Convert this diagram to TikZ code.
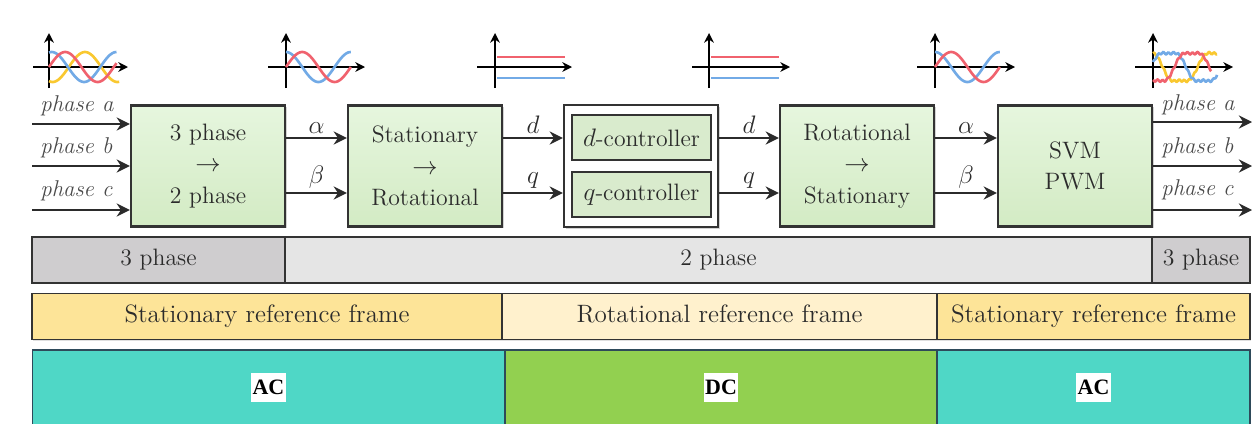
\documentclass[tikz,border=0pt]{standalone}
\usepackage{fontspec}
\newfontfamily\tagfont{Liberation Serif}
\usetikzlibrary{arrows.meta,shadows}
\definecolor{edge}{HTML}{333333}
\definecolor{ink}{HTML}{2B2B2B}
\definecolor{boxtop}{HTML}{E6F6DE}
\definecolor{boxbot}{HTML}{D3EBC4}
\definecolor{ctrlfill}{HTML}{D9EBCD}
\definecolor{phdark}{HTML}{CFCDCF}
\definecolor{phlight}{HTML}{E5E5E5}
\definecolor{frmdark}{HTML}{FDE498}
\definecolor{frmlight}{HTML}{FFF1CD}
\definecolor{acteal}{HTML}{4FD7C6}
\definecolor{dcgreen}{HTML}{92D050}
\definecolor{domedge}{HTML}{2E4A5A}
\definecolor{wred}{HTML}{F0626E}
\definecolor{wblue}{HTML}{72AAE6}
\definecolor{wyellow}{HTML}{F9C830}
\definecolor{labgrey}{HTML}{4A4A4A}
\tikzset{
  block/.style={draw=edge, line width=1.4pt, top color=boxtop, bottom color=boxbot,
    minimum width=3.08cm, minimum height=2.42cm, align=center, text=ink,
    font=\fontsize{13.5}{18}\selectfont,
    drop shadow={shadow xshift=0.9pt, shadow yshift=-0.9pt, opacity=0.35}},
  holder/.style={block, top color=white, bottom color=white, minimum height=2.44cm},
  subblock/.style={draw=edge, line width=1.4pt, fill=ctrlfill, minimum width=2.78cm,
    minimum height=0.9cm, inner sep=0pt, text=ink, font=\fontsize{13.5}{16}\selectfont},
  sig/.style={draw=ink, line width=1.2pt, -{Stealth[length=7.5pt,width=7.5pt,inset=2.5pt]}},
  siglab/.style={midway, above, inner sep=2pt, text=ink, font=\fontsize{14}{16}\selectfont},
  phlab/.style={text=labgrey, inner sep=0pt, anchor=west, font=\fontsize{13}{15}\selectfont\itshape},
  band/.style={draw=edge, line width=1.1pt, minimum height=0.92cm, inner sep=0pt, text=ink,
    text height=9.5pt, text depth=3pt, font=\fontsize{13.5}{16}\selectfont,
    drop shadow={shadow xshift=0.6pt, shadow yshift=-0.6pt, opacity=0.25}},
  frame/.style={band, font=\fontsize{14.3}{16}\selectfont},
  acdc/.style={draw=domedge, line width=0.6pt, minimum height=1.5cm, inner sep=0pt},
  tag/.style={fill=white, inner xsep=0.8pt, inner ysep=4pt, text=black,
    font=\tagfont\bfseries\fontsize{12.5}{14}\selectfont},
  ax/.style={draw=black, line width=1.2pt, -{Stealth[length=5.5pt,width=5.5pt]}},
  wave/.style={line width=1.5pt, smooth, samples=50}
}
\begin{document}
\begin{tikzpicture}[x=0.02cm, y=-0.02cm]
  \useasboundingbox (0,0) rectangle (1257,423);

  \begin{scope}[shift={(49,67)}]
   \draw[ax] (0,21) -- (0,-34);
   \draw[ax] (-16,0) -- (79,0);
   \draw[wave, wyellow] plot[domain=0:390] ({0.18*\x},{-15*cos(\x-200)});
   \draw[wave, wblue] plot[domain=0:375] ({0.18*\x},{-15*cos(\x-15)});
   \draw[wave, wred] plot[domain=0:375] ({0.18*\x},{-15*sin(\x)});
  \end{scope}
  \begin{scope}[shift={(286,67)}]
   \draw[ax] (0,21) -- (0,-34);
   \draw[ax] (-18,0) -- (79,0);
   \draw[wave, wblue] plot[domain=0:360] ({0.18*\x},{-15*cos(\x)});
   \draw[wave, wred] plot[domain=0:360] ({0.18*\x},{-15*sin(\x)});
  \end{scope}
  \begin{scope}[shift={(495,67)}]
   \draw[ax] (0,21) -- (0,-34);
   \draw[ax] (-18,0) -- (77,0);
   \draw[wred, line width=1.5pt] (2,-10) -- (70,-10);
   \draw[wblue, line width=1.5pt] (2,11) -- (70,11);
  \end{scope}
  \begin{scope}[shift={(709,67)}]
   \draw[ax] (0,21) -- (0,-34);
   \draw[ax] (-17,0) -- (81,0);
   \draw[wred, line width=1.5pt] (2,-10) -- (70,-10);
   \draw[wblue, line width=1.5pt] (2,11) -- (70,11);
  \end{scope}
  \begin{scope}[shift={(935,67)}]
   \draw[ax] (0,21) -- (0,-34);
   \draw[ax] (-18,0) -- (80,0);
   \draw[wave, wblue] plot[domain=0:360] ({0.18*\x},{-15*cos(\x)});
   \draw[wave, wred] plot[domain=0:360] ({0.18*\x},{-15*sin(\x)});
  \end{scope}
  \begin{scope}[shift={(1153,67)}]
   \draw[ax] (0,21) -- (0,-34);
   \draw[ax] (-18,0) -- (80,0);
   \draw[wave, wyellow, samples=90] plot[domain=0:330]
    ({0.194*\x},{-14*((cos(\x+40)-cos(3*\x+120)/6)/0.866+0.07*sin(14*\x))});
   \draw[wave, wblue, samples=90] plot[domain=0:330]
    ({0.194*\x},{-14*((cos(\x-80)-cos(3*\x-240)/6)/0.866+0.07*sin(14*\x+60))});
   \draw[wave, wred, samples=90] plot[domain=0:300]
    ({0.194*\x},{-14*((cos(\x-200)-cos(3*\x-600)/6)/0.866+0.07*sin(14*\x+120))});
  \end{scope}

  \node[block] (conv1) at (208,166) {3 phase\\$\rightarrow$\\2 phase};
  \node[block] (conv2) at (425,166) {Stationary\\$\rightarrow$\\Rotational};
  \node[holder] (ctrl) at (641,166) {};
  \node[subblock] (dctl) at (641.5,137.5) {$d$-controller};
  \node[subblock] (qctl) at (641.5,194.5) {$q$-controller};
  \node[block] (conv3) at (857,166) {Rotational\\$\rightarrow$\\Stationary};
  \node[block] (svm) at (1075,166) {SVM\\PWM};

  \coordinate (ina) at (32,124);
  \coordinate (inb) at (32,166);
  \coordinate (inc) at (32,210);
  \draw[sig] (ina) -- (ina -| conv1.west);
  \draw[sig] (inb) -- (inb -| conv1.west);
  \draw[sig] (inc) -- (inc -| conv1.west);
  \node[phlab] (pla) at (40,106) {phase a};
  \node[phlab] (plb) at (40,148) {phase b};
  \node[phlab] (plc) at (40,191) {phase c};

  \draw[sig] ([yshift=0.56cm]conv1.east) -- ([yshift=0.56cm]conv2.west) node[siglab] {$\alpha$};
  \draw[sig] ([yshift=-0.54cm]conv1.east) -- ([yshift=-0.54cm]conv2.west) node[siglab] {$\beta$};
  \draw[sig] ([yshift=0.56cm]conv2.east) -- ([yshift=0.56cm]ctrl.west) node[siglab] {$d$};
  \draw[sig] ([yshift=-0.54cm]conv2.east) -- ([yshift=-0.54cm]ctrl.west) node[siglab] {$q$};
  \draw[sig] ([yshift=0.56cm]ctrl.east) -- ([yshift=0.56cm]conv3.west) node[siglab] {$d$};
  \draw[sig] ([yshift=-0.54cm]ctrl.east) -- ([yshift=-0.54cm]conv3.west) node[siglab] {$q$};
  \draw[sig] ([yshift=0.56cm]conv3.east) -- ([yshift=0.56cm]svm.west) node[siglab] {$\alpha$};
  \draw[sig] ([yshift=-0.54cm]conv3.east) -- ([yshift=-0.54cm]svm.west) node[siglab] {$\beta$};

  \coordinate (outa) at (1252,122);
  \coordinate (outb) at (1252,166);
  \coordinate (outc) at (1252,210);
  \draw[sig] (outa -| svm.east) -- (outa);
  \draw[sig] (outb -| svm.east) -- (outb);
  \draw[sig] (outc -| svm.east) -- (outc);
  \node[phlab] (pra) at (1161,105) {phase a};
  \node[phlab] (prb) at (1161,148) {phase b};
  \node[phlab] (prc) at (1161,190) {phase c};

  \node[band, fill=phdark, minimum width=5.06cm] (ph3l) at (158.5,260) {3 phase};
  \node[band, fill=phlight, minimum width=17.34cm] (ph2) at (718.5,260) {2 phase};
  \node[band, fill=phdark, minimum width=1.96cm] (ph3r) at (1201,260) {3 phase};

  \node[frame, fill=frmdark, minimum width=9.4cm] (sfl) at (267,316.5) {Stationary reference frame};
  \node[frame, fill=frmlight, minimum width=8.7cm] (rf) at (719.5,316.5) {Rotational reference frame};
  \node[frame, fill=frmdark, minimum width=6.26cm] (sfr) at (1093.5,316.5) {Stationary reference frame};

  \node[acdc, fill=acteal, minimum width=9.46cm] (acl) at (268.5,387.5) {};
  \node[acdc, fill=dcgreen, minimum width=8.64cm] (dc) at (721,387.5) {};
  \node[acdc, fill=acteal, minimum width=6.26cm] (acr) at (1093.5,387.5) {};
  \node[tag] (tacl) at (acl) {AC};
  \node[tag] (tdc) at (dc) {DC};
  \node[tag] (tacr) at (acr) {AC};
\end{tikzpicture}
\end{document}
